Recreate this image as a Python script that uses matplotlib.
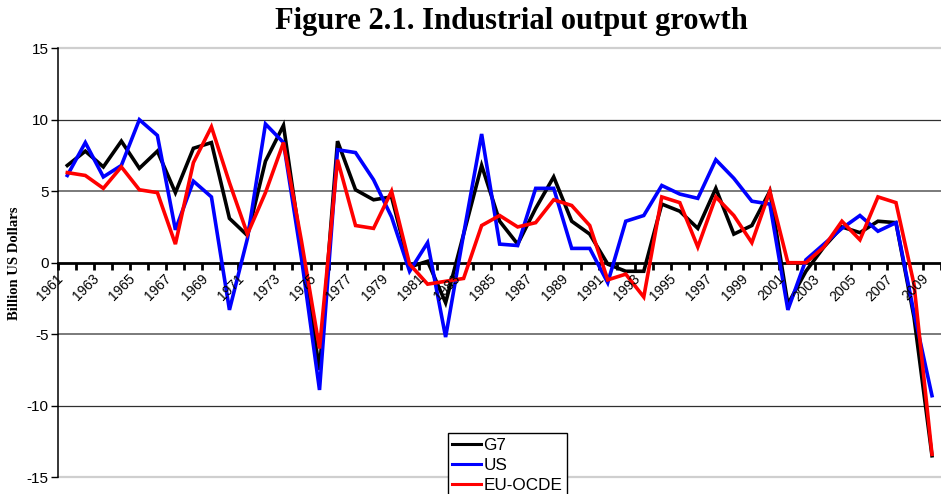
import matplotlib
matplotlib.use('Agg')
import matplotlib.pyplot as plt
import matplotlib.transforms as mtransforms
from matplotlib.lines import Line2D
import numpy as np

# ---------------- data ----------------
years = list(range(1961, 2010))
g7 = [6.8, 7.8, 6.7, 8.5, 6.6, 7.8, 4.9, 8.0, 8.4,
      3.1, 1.9, 7.1, 9.6, 0.9, -7.5, 8.5, 5.1, 4.4, 4.6,
      -0.3, 0.1, -2.8, 2.0, 6.8, 2.9, 1.3, 3.8, 6.0, 2.9,
      2.0, -0.1, -0.6, -0.6, 4.1, 3.6, 2.4, 5.2, 2.0, 2.6,
      5.0, -2.9, -0.6, 1.1, 2.5, 2.1, 2.9, 2.8, -3.8, -13.5]
us = [6.1, 8.4, 6.0, 6.8, 10.0, 8.9, 2.3, 5.7, 4.6,
      -3.3, 1.7, 9.7, 8.4, 0.3, -8.9, 7.9, 7.7, 5.8, 3.2,
      -0.6, 1.4, -5.2, 2.0, 9.0, 1.3, 1.2, 5.2, 5.2, 1.0,
      1.0, -1.4, 2.9, 3.3, 5.4, 4.8, 4.5, 7.2, 5.9, 4.3,
      4.1, -3.3, 0.2, 1.3, 2.4, 3.3, 2.2, 2.8, -3.5, -9.3]
eu = [6.3, 6.1, 5.2, 6.7, 5.1, 4.9, 1.3, 7.0, 9.5,
      5.6, 2.0, 4.9, 8.4, 1.5, -6.0, 7.2, 2.6, 2.4, 5.0,
      -0.1, -1.5, -1.3, -1.1, 2.6, 3.3, 2.5, 2.8, 4.4, 4.0,
      2.6, -1.2, -0.8, -2.4, 4.6, 4.2, 1.1, 4.6, 3.3, 1.4,
      5.0, 0.0, 0.0, 1.1, 2.9, 1.6, 4.6, 4.2, -1.5, -13.4]
series_names = ['G7', 'US', 'EU-OCDE']
series_colors = ['#000000', '#0000ff', '#ff0000']
title = 'Figure 2.1. Industrial output growth'
ylabel = 'Billion US Dollars'
yticks = [15, 10, 5, 0, -5, -10, -15]
label_years = years[::2]

# ---------------- figure ----------------
plt.rcParams['axes.unicode_minus'] = False
plt.rcParams['font.family'] = ['Liberation Sans', 'DejaVu Sans']

fig = plt.figure(figsize=(9.41, 4.94), dpi=100)
ax = fig.add_axes([58.3 / 941, 16.8 / 494, 882.7 / 941, 429 / 494])
ax.set_xlim(1960.5, 1960.5 + 882.7 / 18.17)
ax.set_ylim(-15, 15)

# gridlines
for v in yticks:
    if abs(v) == 15:
        ax.axhline(v, color='#cfcfcf', lw=1.6, zorder=1, clip_on=False)
    elif v == 0:
        continue
    elif abs(v) == 10:
        ax.axhline(v, color='#303030', lw=0.9, zorder=1)
    else:
        ax.axhline(v, color='#707070', lw=1.3, zorder=1)

for vals, name, col in zip([g7, us, eu], series_names, series_colors):
    ax.plot(years, vals, color=col, lw=2.6, label=name, zorder=3,
            solid_joinstyle='miter', clip_on=False)

# spines
for s in ['top', 'right']:
    ax.spines[s].set_visible(False)
ax.spines['left'].set_color('black')
ax.spines['left'].set_linewidth(1.1)
ax.spines['bottom'].set_position(('data', 0))
ax.spines['bottom'].set_linewidth(2.0)
ax.spines['bottom'].set_zorder(2)

# y ticks
ax.set_yticks(yticks)
ax.set_yticklabels([str(v) for v in yticks])
ax.tick_params(axis='y', direction='out', length=5, width=1, pad=2,
               labelsize=11, colors='black')

# x ticks at category boundaries
ax.set_xticks(np.arange(1960.5, 2009.6, 1.0))
ax.set_xticklabels([])
ax.tick_params(axis='x', direction='out', length=5, width=2)

off = mtransforms.offset_copy(ax.transData, fig=fig, x=-6, y=-14, units='dots')
for yr in label_years:
    ax.text(yr, 0, str(yr), transform=off, rotation=45, rotation_mode='anchor',
            ha='right', va='center', fontsize=10, zorder=4)

# texts
fig.text(511 / 941, 1 - 21 / 494, title, ha='center', va='center',
         family='Liberation Serif', weight='bold', fontsize=22)
fig.text(15 / 941, 1 - 263 / 494, ylabel, rotation=90, ha='center', va='center',
         family='Liberation Serif', weight='bold', fontsize=10.5)

# legend
handles = [Line2D([], [], color=c, lw=2.2) for c in series_colors]
leg = fig.legend(handles, series_names, loc='upper left',
                 bbox_to_anchor=(447.5 / 941, 1 - 433.3 / 494),
                 borderaxespad=0, frameon=True, fancybox=False,
                 edgecolor='black', framealpha=1, fontsize=12.3,
                 handlelength=1.7, handletextpad=0.15, borderpad=0.25,
                 labelspacing=0.3)
leg.get_frame().set_linewidth(1.0)

fig.savefig('out.png', dpi=100)
